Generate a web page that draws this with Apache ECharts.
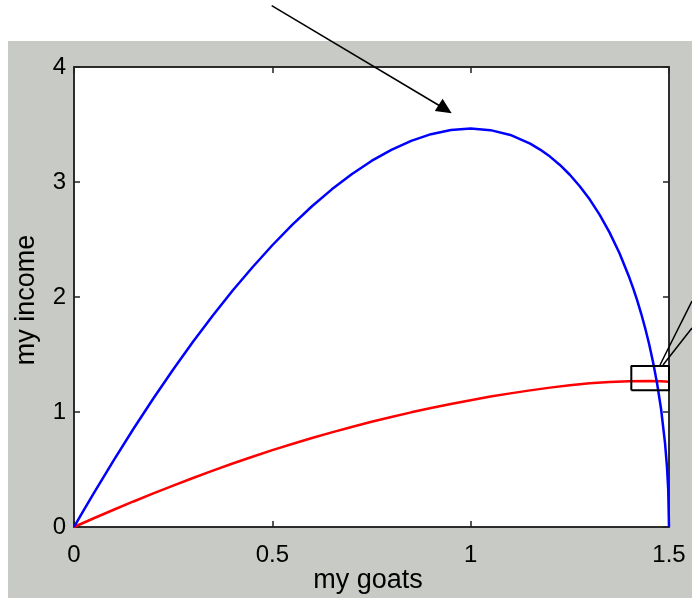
<!DOCTYPE html>
<html>
<head>
<meta charset="utf-8">
<script src="https://cdn.jsdelivr.net/npm/echarts@6/dist/echarts.min.js"></script>
<style>
html,body{margin:0;padding:0;background:#ffffff;}
#bg{position:absolute;left:8px;top:41px;width:684px;height:557px;background:#c7cac5;}
#chart{position:absolute;left:0;top:0;width:692px;height:598px;}
</style>
</head>
<body>
<div id="bg"></div>
<div id="chart"></div>
<script>
// ---- data ----
const xTicks = [0, 0.5, 1, 1.5];
const yTicks = [0, 1, 2, 3, 4];

const goatsBlue = [0,0.01,0.025,0.05,0.1,0.15,0.2,0.25,0.3,0.35,0.4,0.45,0.5,0.55,0.6,0.65,0.7,0.75,0.8,0.85,0.9,0.95,1.0,1.05,1.1,1.15,1.175,1.2,1.225,1.25,1.275,1.3,1.325,1.35,1.375,1.4,1.41,1.42,1.43,1.44,1.45,1.46,1.47,1.48,1.49,1.495,1.498,1.5];
const incomeBlue = [0,0.06,0.149,0.295,0.58,0.854,1.117,1.37,1.61,1.839,2.056,2.259,2.45,2.627,2.789,2.936,3.068,3.183,3.28,3.358,3.416,3.452,3.465,3.451,3.409,3.334,3.282,3.221,3.148,3.063,2.963,2.849,2.716,2.562,2.382,2.169,2.073,1.968,1.854,1.728,1.589,1.431,1.248,1.026,0.73,0.518,0.328,0];

const goatsRed = [0,0.05,0.1,0.15,0.2,0.25,0.3,0.35,0.4,0.45,0.5,0.55,0.6,0.65,0.7,0.75,0.8,0.85,0.9,0.95,1.0,1.05,1.1,1.15,1.2,1.25,1.3,1.35,1.4,1.45,1.48,1.5];
const incomeRed = [0,0.076,0.15,0.222,0.292,0.36,0.426,0.49,0.552,0.611,0.668,0.722,0.774,0.823,0.87,0.915,0.957,0.997,1.035,1.07,1.103,1.134,1.162,1.188,1.212,1.232,1.249,1.26,1.267,1.269,1.268,1.262];

const boxX = [1.405, 1.5, 1.5, 1.405, 1.405];
const boxY = [1.19, 1.19, 1.40, 1.40, 1.19];

const xName = 'my goats';
const yName = 'my income';

function pairs(xs, ys){ return xs.map((x,i)=>[x, ys[i]]); }

const FONT = 'Liberation Sans, Arial, Helvetica, sans-serif';
const axisLineStyle = {color:'#222', width:1.5};

const chart = echarts.init(document.getElementById('chart'), null, {renderer:'canvas'});
const option = {
  backgroundColor: 'transparent',
  animation: false,
  grid: {left:74, top:67, width:595, height:460, show:true, backgroundColor:'#ffffff', borderColor:'#222', borderWidth:1.5},
  xAxis: [
    {type:'value', min:0, max:1.5, interval:0.5, position:'bottom',
     axisLine:{show:true, onZero:false, lineStyle:axisLineStyle},
     axisTick:{show:true, inside:true, length:6, lineStyle:axisLineStyle},
     axisLabel:{show:true, margin:16, fontSize:24, color:'#000', fontFamily:FONT,
       formatter: v => xTicks.includes(v) ? String(v) : ''},
     splitLine:{show:false}},
    {type:'value', min:0, max:1.5, interval:0.5, position:'top',
     axisLine:{show:true, onZero:false, lineStyle:axisLineStyle},
     axisTick:{show:true, inside:true, length:6, lineStyle:axisLineStyle},
     axisLabel:{show:false}, splitLine:{show:false}}
  ],
  yAxis: [
    {type:'value', min:0, max:4, interval:1, position:'left',
     axisLine:{show:true, onZero:false, lineStyle:axisLineStyle},
     axisTick:{show:true, inside:true, length:6, lineStyle:axisLineStyle},
     axisLabel:{show:true, margin:8, fontSize:24, color:'#000', fontFamily:FONT,
       formatter: v => yTicks.includes(v) ? String(v) : ''},
     splitLine:{show:false}},
    {type:'value', min:0, max:4, interval:1, position:'right',
     axisLine:{show:true, onZero:false, lineStyle:axisLineStyle},
     axisTick:{show:true, inside:true, length:6, lineStyle:axisLineStyle},
     axisLabel:{show:false}, splitLine:{show:false}}
  ],
  series: [
    {type:'line', name:'blue', data:pairs(goatsBlue, incomeBlue), showSymbol:false, symbol:'none',
     lineStyle:{color:'#0000ff', width:2.5}, clip:false, z:3},
    {type:'line', name:'red', data:pairs(goatsRed, incomeRed), showSymbol:false, symbol:'none',
     lineStyle:{color:'#ff0000', width:2.5}, clip:false, z:2},
    {type:'line', name:'box', data:pairs(boxX, boxY), showSymbol:false, symbol:'none',
     lineStyle:{color:'#000000', width:2}, clip:false, z:4, silent:true}
  ],
  graphic: [
    {type:'text', x:368, y:581, style:{text:xName, font:'27px ' + FONT, fill:'#000', textAlign:'center', textVerticalAlign:'middle'}},
    {type:'text', x:27, y:300, rotation:Math.PI/2, style:{text:yName, font:'27px ' + FONT, fill:'#000', textAlign:'center', textVerticalAlign:'middle'}},
    // arrow pointing at the peak
    {type:'line', shape:{x1:271.7, y1:5.7, x2:440, y2:106}, style:{stroke:'#000', lineWidth:1.5}, z:10},
    {type:'polygon', shape:{points:[[451.7,113.2],[434.8,110.9],[442.6,98.8]]}, style:{fill:'#000'}, z:10},
    // callout lines from the box
    {type:'line', shape:{x1:660, y1:365, x2:692, y2:301}, style:{stroke:'#000', lineWidth:1.5}, z:10},
    {type:'line', shape:{x1:663, y1:365, x2:692, y2:328}, style:{stroke:'#000', lineWidth:1.5}, z:10}
  ]
};
chart.setOption(option);
</script>
</body>
</html>
